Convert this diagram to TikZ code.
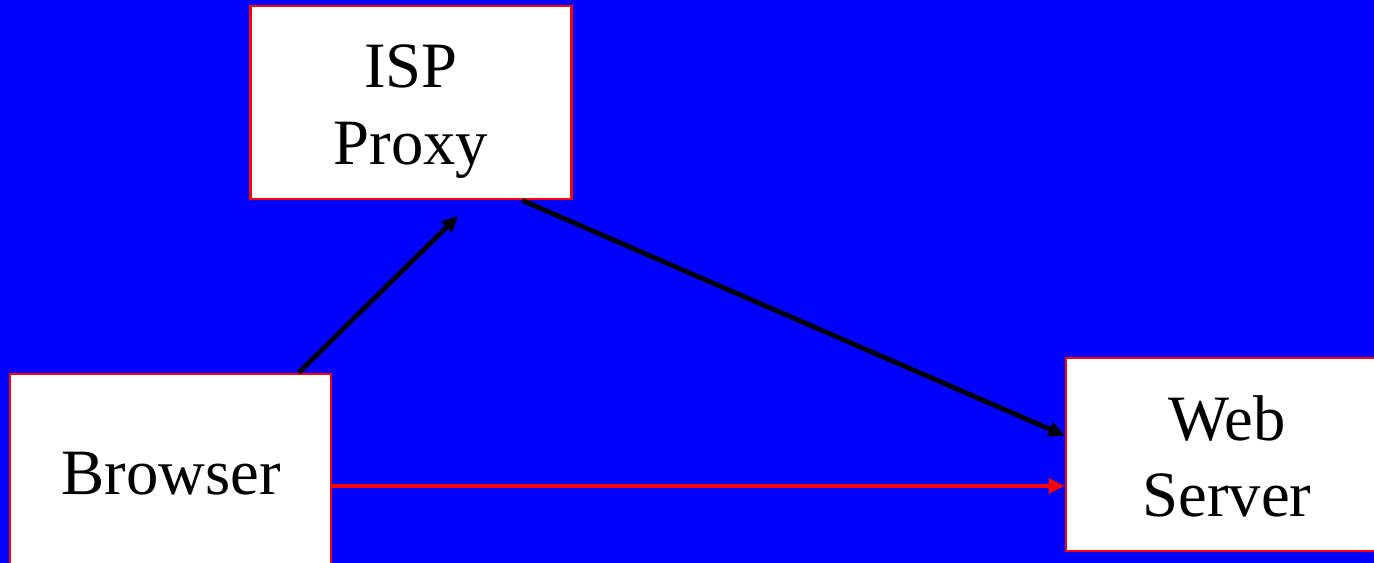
\documentclass[tikz,border=0pt]{standalone}
\usepackage{fontspec}
\setmainfont{Liberation Serif}
\usetikzlibrary{arrows.meta,calc}
\definecolor{bgblue}{RGB}{0,0,255}
\definecolor{boxred}{RGB}{255,0,0}
\tikzset{
  box/.style={draw=boxred, line width=2pt, fill=white, minimum width=240.75pt, minimum height=144.75pt, inner sep=0pt},
  txt/.style={anchor=base, inner sep=0pt, font=\fontsize{48.5}{58}\selectfont},
  conn/.style={line width=3.6pt, -{Triangle[length=12pt,width=11pt]}},
}
\begin{document}
\begin{tikzpicture}[x=0.75pt,y=-0.75pt]
\fill[bgblue] (0,0) rectangle (1374,563);
\useasboundingbox (0,0) rectangle (1374,563);
\clip (0,0) rectangle (1374,563);
\node[box] (isp) at (411,102.5) {};
\node[box] (browser) at (170.5,470.5) {};
\node[box] (web) at (1226.5,454.5) {};
\node[txt] (isp1) at (411,88) {ISP};
\node[txt] (isp2) at (411,165) {Proxy};
\node[txt] (br1) at (171,494) {Browser};
\node[txt] (web1) at (1227,440) {Web};
\node[txt] (web2) at (1227,516) {Server};
\coordinate (tipA) at (458,216);
\draw[conn,black] ([xshift=217.5pt]browser.north west) -- (tipA);
\draw[conn,black] ([xshift=204.75pt]isp.south west) -- ([yshift=-59.25pt]web.north west);
\draw[conn,boxred] ([yshift=-11.6pt]browser.east) -- ([yshift=-11.6pt]browser.east -| web.west);
\end{tikzpicture}
\end{document}
